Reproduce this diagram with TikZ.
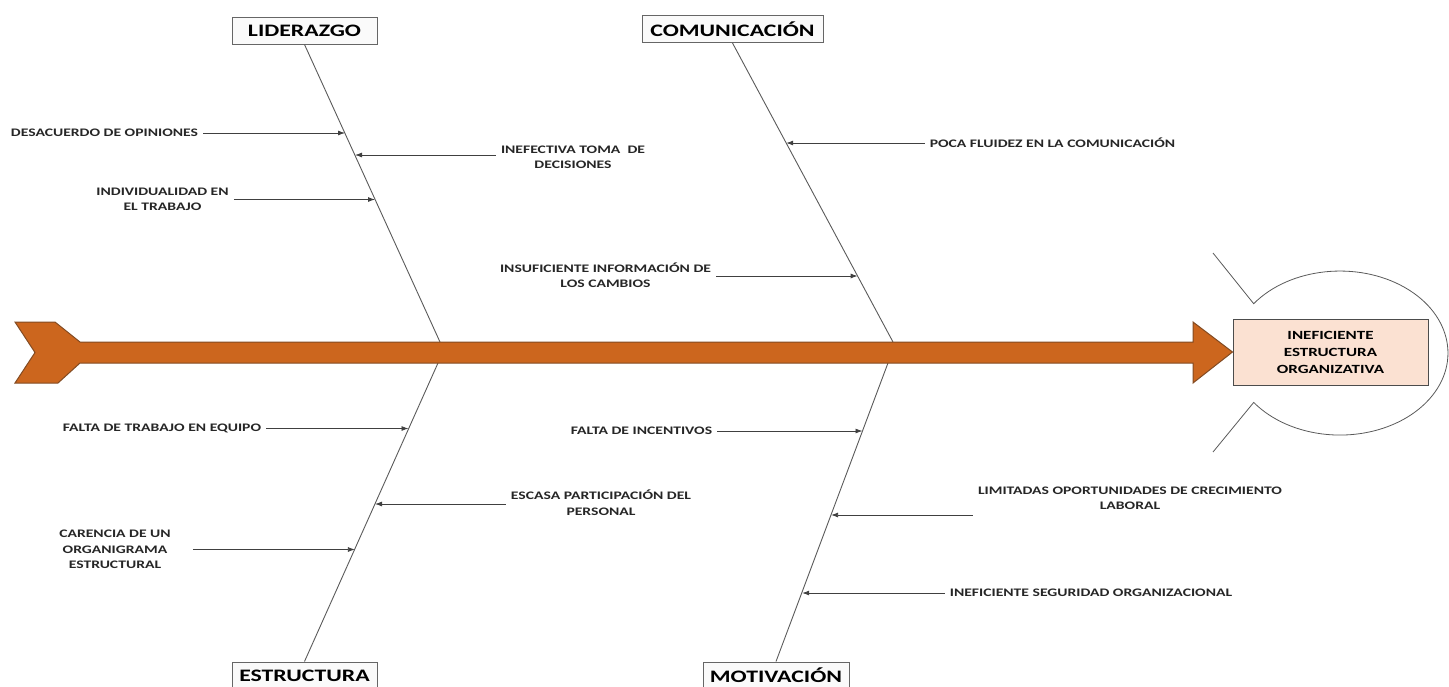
\documentclass[tikz,border=0pt]{standalone}
\usepackage{fontspec}
\setmainfont{Carlito}[FakeStretch=1.36]
\usetikzlibrary{arrows.meta}
\definecolor{spineorange}{RGB}{204,102,30}
\definecolor{spineedge}{RGB}{130,75,35}
\definecolor{effectfill}{RGB}{251,225,210}
\definecolor{bonegray}{RGB}{90,90,90}

\begin{document}
\begin{tikzpicture}[x=1pt,y=-1pt,
    category/.style={draw=gray!80!black,fill=gray!4,line width=1pt,minimum width=145pt,minimum height=27pt,inner sep=0pt,font=\fontsize{17.5}{20}\selectfont\bfseries},
    cause/.style={inner xsep=5pt,inner ysep=1pt,align=center,text=black!85,font=\fontsize{11.5}{15.5}\selectfont\bfseries},
    bone/.style={draw=bonegray,line width=0.9pt},
    twig/.style={draw=black!75,line width=0.8pt,-{Latex[length=7pt,width=5pt]}}]
    \path[use as bounding box] (0,0) rectangle (1449,686);
    \clip (0,0) rectangle (1449,686);
    \node[category] (lid) at (304.5,30.5) {LIDERAZGO};
    \node[category,minimum width=181pt] (com) at (732.5,29) {COMUNICACIÓN};
    \node[category] (est) at (304.5,675.5) {ESTRUCTURA};
    \node[category,minimum width=146pt] (mot) at (776,675.5) {MOTIVACIÓN};%
    \node[draw=black!70,fill=effectfill,line width=1pt,minimum width=195pt,minimum height=66pt,align=center,font=\fontsize{12.5}{17}\selectfont\bfseries] (eff) at (1330.5,352) {INEFICIENTE\\ESTRUCTURA\\ORGANIZATIVA};%
    \coordinate (lidS) at (440,342);
    \coordinate (comS) at (893,342);
    \coordinate (estS) at (438,363);
    \coordinate (motS) at (888,363);
    \draw[bone] (lid.south) -- (lidS);
    \draw[bone] (com.south) -- (comS);
    \draw[bone] (est.north) -- (estS);
    \draw[bone] (mot.north) -- (motS);%
    \filldraw[fill=spineorange,draw=spineedge,line width=1pt] (15,322) -- (55,322) -- (80,342) -- (1193,342) -- (1193,322) -- (eff.west) -- (1193,383) -- (1193,363) -- (80,363) -- (58,383) -- (15,383) -- (35,352.5) -- cycle;
    \draw[draw=gray!70!black,line width=0.8pt] (1213,253) -- (1253.7,303.7) arc[start angle=-143,end angle=143,x radius=108,y radius=82] -- (1213,452);%
    \node[cause] (c1) at (104.5,133) {DESACUERDO DE OPINIONES};
    \node[cause] (c2) at (573,157.5) {INEFECTIVA TOMA\ \ DE\\DECISIONES};
    \node[cause] (c3) at (162.5,199.5) {INDIVIDUALIDAD EN\\EL TRABAJO};
    \node[cause] (c4) at (1052.5,143) {POCA FLUIDEZ EN LA COMUNICACIÓN};
    \node[cause] (c5) at (605.5,275) {INSUFICIENTE INFORMACIÓN DE\\LOS CAMBIOS};
    \node[cause] (c6) at (162,428.5) {FALTA DE TRABAJO EN EQUIPO};
    \node[cause] (c7) at (601,502.5) {ESCASA PARTICIPACIÓN DEL\\PERSONAL};
    \node[cause] (c8) at (115,549.5) {CARENCIA DE UN\\ORGANIGRAMA\\ESTRUCTURAL};
    \node[cause] (c9) at (641.5,431) {FALTA DE INCENTIVOS};
    \node[cause] (c10) at (1130,498.5) {LIMITADAS OPORTUNIDADES DE CRECIMIENTO\\LABORAL};
    \node[cause] (c11) at (1091,593) {INEFICIENTE SEGURIDAD ORGANIZACIONAL};%
    \coordinate (b1) at (345,133);
    \coordinate (b2) at (355,155);
    \coordinate (b3) at (375,199.5);
    \coordinate (b4) at (786.2,143);
    \coordinate (b5) at (857.6,276);
    \coordinate (b6) at (408.5,428.5);
    \coordinate (b7) at (375,504);
    \coordinate (b8) at (354.9,549.5);
    \coordinate (b9) at (862.5,431);
    \coordinate (b10) at (831.1,515);
    \coordinate (b11) at (802.2,593);%
    \draw[twig] (c1) -- (b1);
    \draw[twig] (b2 -| c2.west) -- (b2);
    \draw[twig] (c3) -- (b3);
    \draw[twig] (c4) -- (b4);
    \draw[twig] (b5 -| c5.east) -- (b5);
    \draw[twig] (c6) -- (b6);
    \draw[twig] (b7 -| c7.west) -- (b7);
    \draw[twig,shorten <=17pt] (c8) -- (b8);
    \draw[twig] (c9) -- (b9);
    \draw[twig] (b10 -| c10.west) -- (b10);
    \draw[twig] (c11) -- (b11);%
\end{tikzpicture}
\end{document}
